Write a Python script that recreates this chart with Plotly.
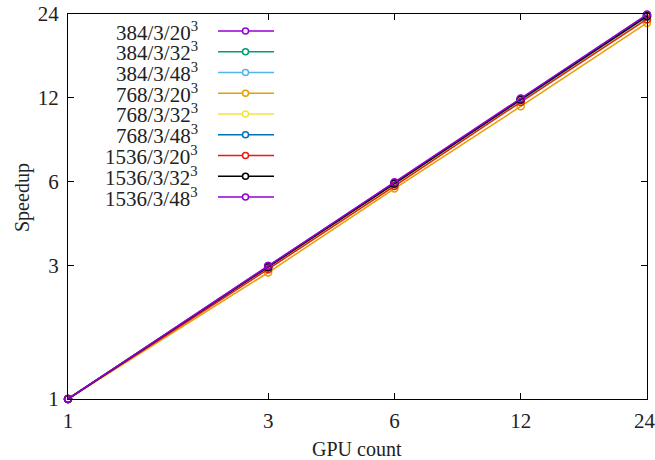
import plotly.graph_objects as go

gpus = [1, 3, 6, 12, 24]
labels = ["384/3/20", "384/3/32", "384/3/48", "768/3/20", "768/3/32",
          "768/3/48", "1536/3/20", "1536/3/32", "1536/3/48"]
s_384_20 = [1, 3.00, 5.95, 11.90, 23.8]
s_384_32 = [1, 2.98, 5.92, 11.85, 23.6]
s_384_48 = [1, 2.99, 5.94, 11.90, 23.7]
s_768_20 = [1, 2.84, 5.68, 11.20, 22.3]
s_768_32 = [1, 2.95, 5.85, 11.70, 23.3]
s_768_48 = [1, 2.97, 5.90, 11.80, 23.5]
s_1536_20 = [1, 2.92, 5.80, 11.60, 23.0]
s_1536_32 = [1, 2.97, 5.92, 11.85, 23.6]
s_1536_48 = [1, 3.00, 5.98, 11.95, 23.9]
series = [s_384_20, s_384_32, s_384_48, s_768_20, s_768_32, s_768_48,
          s_1536_20, s_1536_32, s_1536_48]
colors = ["#9400D3", "#009E73", "#56B4E9", "#E69F00", "#F0E442",
          "#0072B2", "#E51E10", "#000000", "#9400D3"]
tick_vals = [1, 3, 6, 12, 24]
x_tick_text = ["1", "3", "6", "12", "24\u00a0"]
y_tick_text = ["1", "3", "6", "12", "24"]

FONT = "Liberation Serif"
FS = 20
FS_NUM = 21
TXT = "#222222"
fig = go.Figure()
for lab, ys, c in zip(labels, series, colors):
    fig.add_trace(go.Scatter(
        x=gpus, y=ys, mode="lines+markers", name=lab,
        line=dict(color=c, width=1.5),
        marker=dict(symbol="circle-open", size=7, color=c, line=dict(width=1.5, color=c)),
        cliponaxis=False, showlegend=False))

W, H = 655, 460
ml, mr, mt, mb = 68, 8, 14, 61
pw, ph = W - ml - mr, H - mt - mb
def px(x):  # page pixel -> paper
    return (x - ml) / pw
def py(y):
    return (H - mb - y) / ph

# gnuplot-style key: text right-aligned, sample to the right
row0, dy = 31, 20.75
for i, (lab, c) in enumerate(zip(labels, colors)):
    yy = row0 + i * dy
    fig.add_annotation(x=px(199), y=py(yy), xref="paper", yref="paper",
                       text=lab + "<sup>3</sup>", showarrow=False,
                       xanchor="right", yanchor="middle", borderpad=0,
                       font=dict(family=FONT, size=FS_NUM, color=TXT))
    fig.add_shape(type="line", xref="paper", yref="paper",
                  x0=px(218), x1=px(274), y0=py(yy), y1=py(yy),
                  line=dict(color=c, width=1.5))
    fig.add_shape(type="circle", xref="paper", yref="paper",
                  x0=px(242.5), x1=px(248.5), y0=py(yy - 3), y1=py(yy + 3),
                  line=dict(color=c, width=1.5), fillcolor="white")

# axis titles
fig.add_annotation(x=px(357), y=py(449), xref="paper", yref="paper", text="GPU count",
                   showarrow=False, xanchor="center", yanchor="middle",
                   font=dict(family=FONT, size=FS, color=TXT))
fig.add_annotation(x=px(22), y=py(198), xref="paper", yref="paper", text="Speedup",
                   showarrow=False, xanchor="center", yanchor="middle", textangle=-90,
                   font=dict(family=FONT, size=FS, color=TXT))

RMAX = 1.3802125  # just above log10(24) so the 24 tick is kept
axis_common = dict(type="log", tickvals=tick_vals,
                   showgrid=False, zeroline=False, showline=True, linecolor="black",
                   linewidth=1, mirror="ticks", ticks="inside", ticklen=6,
                   tickcolor="black", automargin=False, ticklabeloverflow="allow",
                   tickfont=dict(family=FONT, size=FS_NUM, color=TXT))
fig.update_xaxes(range=[0, RMAX], ticktext=x_tick_text, ticklabelstandoff=3, **axis_common)
fig.update_yaxes(range=[0, RMAX], ticktext=y_tick_text, ticklabelstandoff=4, **axis_common)
fig.update_layout(width=W, height=H, margin=dict(l=ml, r=mr, t=mt, b=mb),
                  paper_bgcolor="white", plot_bgcolor="white",
                  font=dict(family=FONT, size=FS))
fig.write_html("out.html", config={"displayModeBar": False},
               post_script="document.body.style.margin='0';")
